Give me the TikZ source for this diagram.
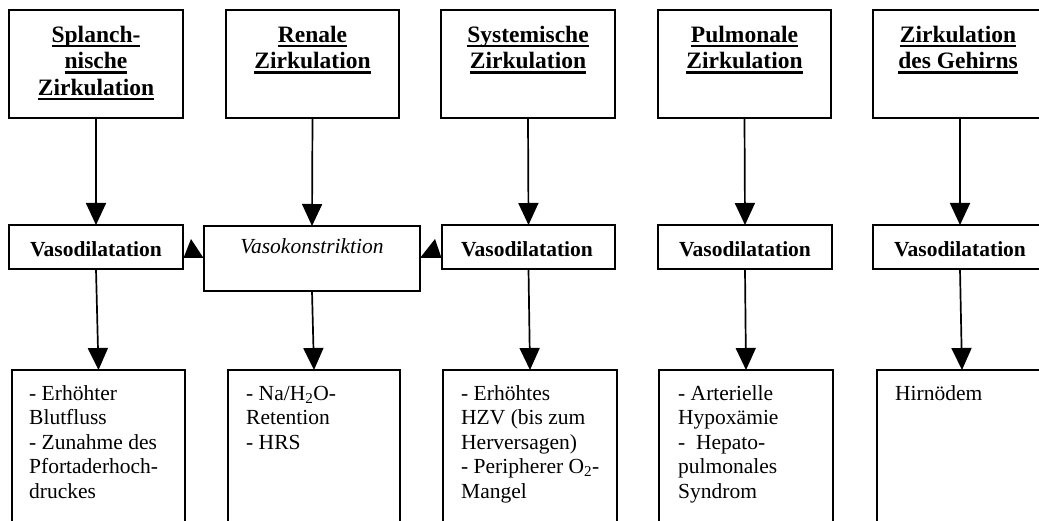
\documentclass[tikz,border=0pt]{standalone}
\usepackage{fontspec}
\setmainfont{Liberation Serif}
\usetikzlibrary{arrows.meta,calc}
\newsavebox{\myulbox}
\newcommand{\myul}[1]{\leavevmode\sbox{\myulbox}{#1}\rlap{\rule[-5pt]{\wd\myulbox}{2.2pt}}\usebox{\myulbox}}
\tikzset{
  box/.style={draw, line width=1.9pt, inner sep=0pt, outer sep=0pt, rectangle},
  headtxt/.style={inner sep=0pt, anchor=north, align=center, font=\fontsize{23.5}{26.5}\selectfont\bfseries},
  midtxt/.style={inner sep=0pt, anchor=base, font=\fontsize{21.5}{24.5}\selectfont\bfseries},
  bottxt/.style={inner sep=0pt, anchor=north west, align=left, font=\fontsize{21.5}{24.5}\selectfont},
  arr/.style={line width=1.7pt, -{Triangle[width=20pt,length=22pt]}}
}
\begin{document}
\begin{tikzpicture}[x=1pt,y=-1pt]
\useasboundingbox (0,0) rectangle (1039,521);
\fill[white] (0,0) rectangle (1039,521);
\clip (0,0) rectangle (1039,521);
% top boxes
\node[box, minimum width=174, minimum height=108] (t1) at (96,64) {};
\node[box, minimum width=173, minimum height=108] (t2) at (312.5,64) {};
\node[box, minimum width=174, minimum height=108] (t3) at (528,64) {};
\node[box, minimum width=173, minimum height=108] (t4) at (744.5,64) {};
\node[box, minimum width=174, minimum height=108] (t5) at (960,64) {};
\node[headtxt] (t1l) at (96,24) {\rule{0pt}{18pt}\myul{Splanch-}\\\myul{nische}\\\myul{Zirkulation}};
\node[headtxt] (t2l) at (312.5,24) {\rule{0pt}{18pt}\myul{Renale}\\\myul{Zirkulation}};
\node[headtxt] (t3l) at (528,24) {\rule{0pt}{18pt}\myul{Systemische}\\\myul{Zirkulation}};
\node[headtxt] (t4l) at (744.5,24) {\rule{0pt}{18pt}\myul{Pulmonale}\\\myul{Zirkulation}};
\node[headtxt] (t5l) at (958,24) {\rule{0pt}{18pt}\myul{Zirkulation}\\\myul{des Gehirns}};
% middle boxes
\node[box, minimum width=174, minimum height=44] (v1) at (96,247) {};
\node[box, minimum width=216, minimum height=65] (vk) at (312,258.5) {};
\node[box, minimum width=173, minimum height=44] (v3) at (528.5,247) {};
\node[box, minimum width=174, minimum height=44] (v4) at (745,247) {};
\node[box, minimum width=174, minimum height=44] (v5) at (960,247) {};
\node[midtxt] (v1l) at (96,257) {Vasodilatation};
\node[midtxt, font=\fontsize{21.5}{24.5}\selectfont\itshape] (vkl) at (312,254) {Vasokonstriktion};
\node[midtxt] (v3l) at (527,257) {Vasodilatation};
\node[midtxt] (v4l) at (745,257) {Vasodilatation};
\node[midtxt] (v5l) at (960,257) {Vasodilatation};
% bottom boxes
\node[box, minimum width=173, minimum height=160] (b1) at (98.5,450) {};
\node[box, minimum width=172, minimum height=160] (b2) at (314,450) {};
\node[box, minimum width=174, minimum height=160] (b3) at (530,450) {};
\node[box, minimum width=174, minimum height=160] (b4) at (746,450) {};
\node[box, minimum width=170, minimum height=160] (b5) at (962,450) {};
\node[bottxt] (b1l) at (29,383) {\rule{0pt}{17pt}- Erhöhter\\Blutfluss\\- Zunahme des\\Pfortaderhoch-\\druckes};
\node[bottxt] (b2l) at (246,383) {\rule{0pt}{17pt}- Na/H\textsubscript{2}O-\\Retention\\- HRS};
\node[bottxt] (b3l) at (461,383) {\rule{0pt}{17pt}- Erhöhtes\\HZV (bis zum\\Herversagen)\\- Peripherer O\textsubscript{2}-\\Mangel};
\node[bottxt] (b4l) at (678,383) {\rule{0pt}{17pt}- Arterielle\\Hypoxämie\\-\ \ Hepato-\\pulmonales\\Syndrom};
\node[bottxt] (b5l) at (895,383) {\rule{0pt}{17pt}Hirnödem};
% arrows top -> middle
\draw[arr] (t1.south) -- (v1.north);
\draw[arr] (t2.south) -- (vk.north);
\draw[arr] (t3.south) -- (v3.north);
\draw[arr] (t4.south) -- (v4.north);
\draw[arr] (t5.south) -- (v5.north);
% arrows middle -> bottom
\draw[arr] (v1.south) -- (b1.north);
\draw[arr] (vk.south) -- (b2.north);
\draw[arr] (v3.south) -- (b3.north);
\draw[arr] (v4.south) -- (b4.north);
\draw[arr] (v5.south) -- (b5.north);
% small arrowheads between middle boxes
\fill ($(v1.east)+(0.5,11)$) -- ($(vk.west |- v1.east)+(-0.5,11)$) -- ($(v1.east)+(8,-8)$) -- cycle;
\fill ($(vk.east |- v3.west)+(0,11)$) -- ($(v3.west)+(-0.5,11)$) -- ($(v3.west)+(-7,-8)$) -- cycle;
\end{tikzpicture}
\end{document}
